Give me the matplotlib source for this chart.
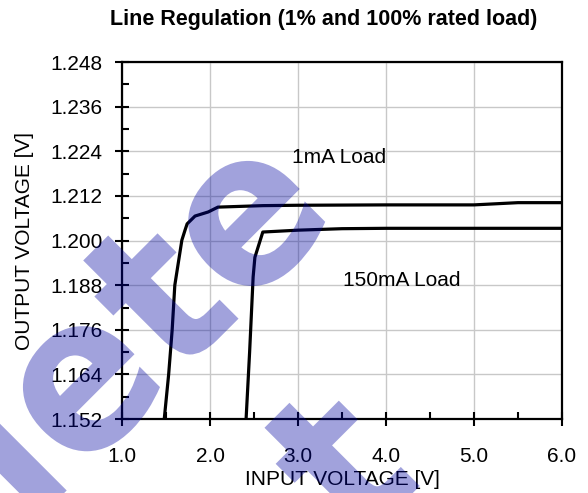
import matplotlib
matplotlib.use('Agg')
import matplotlib.pyplot as plt
from matplotlib.ticker import MultipleLocator, FormatStrFormatter
from matplotlib.textpath import TextPath
from matplotlib.patches import PathPatch
from matplotlib.font_manager import FontProperties
from matplotlib.transforms import Affine2D, IdentityTransform

plt.rcParams['font.family'] = ['Liberation Sans', 'DejaVu Sans']

# 1mA load curve
vin_1ma = [1.48, 1.53, 1.57, 1.60, 1.68, 1.716, 1.74, 1.83, 1.98, 2.09, 2.6, 3.0, 4.0, 5.0, 5.5, 6.0]
vout_1ma = [1.152, 1.164, 1.176, 1.188, 1.2001, 1.2028, 1.2045, 1.2066, 1.2077, 1.2090,
            1.2094, 1.2095, 1.2096, 1.2096, 1.2102, 1.2102]

# 150mA load curve
vin_150ma = [2.41, 2.45, 2.49, 2.51, 2.60, 3.0, 3.5, 4.0, 5.0, 6.0]
vout_150ma = [1.152, 1.170, 1.1902, 1.1955, 1.2023, 1.2028, 1.2032, 1.2033, 1.2033, 1.2033]

fig = plt.figure(figsize=(5.88, 4.93), dpi=100)
ax = fig.add_axes([0.2075, 0.150, 0.7483, 0.724])

ax.plot(vin_1ma, vout_1ma, color='black', lw=2.3, zorder=3)
ax.plot(vin_150ma, vout_150ma, color='black', lw=2.3, zorder=3)

ax.set_xlim(1.0, 6.0)
ax.set_ylim(1.152, 1.248)
ax.xaxis.set_major_locator(MultipleLocator(1.0))
ax.xaxis.set_minor_locator(MultipleLocator(0.5))
ax.yaxis.set_major_locator(MultipleLocator(0.012))
ax.yaxis.set_minor_locator(MultipleLocator(0.006))
ax.xaxis.set_major_formatter(FormatStrFormatter('%.1f'))
ax.yaxis.set_major_formatter(FormatStrFormatter('%.3f'))

ax.grid(True, which='major', color='#c8c8c8', lw=1.0)
ax.set_axisbelow(True)
for s in ax.spines.values():
    s.set_linewidth(1.6)
    s.set_color('black')

ax.tick_params(which='major', direction='inout', length=10, width=1.5, labelsize=15)
ax.tick_params(axis='x', which='major', pad=15)
ax.tick_params(axis='y', which='major', pad=9)
ax.tick_params(which='minor', direction='in', length=5, width=1.5)

ax.set_xlabel('INPUT VOLTAGE [V]', fontsize=15)
ax.set_ylabel('OUTPUT VOLTAGE [V]', fontsize=15)
ax.xaxis.set_label_coords(0.5, -0.142)
ax.yaxis.set_label_coords(-0.20, 0.5)

ax.text(2.93, 1.2208, '1mA Load', fontsize=15)
ax.text(3.51, 1.1878, '150mA Load', fontsize=15)

fig.text(0.551, 0.960, 'Line Regulation (1% and 100% rated load)', fontsize=15.5,
         fontweight='bold', ha='center', va='center')

# watermark: slightly condensed bold text, rotated 45 deg, drawn on top
fp = FontProperties(family='DejaVu Sans', weight='bold')
wm_size = 215
wm_squeeze = 0.94
wm_color = (0, 0.02, 0.63, 0.37)

# word "Obsolete": centre of the last "e" goes to pixel (247, 222) from top-left
tp = TextPath((0, 0), 'Obsolete', size=wm_size, prop=fp)
ext = tp.get_extents()
cx = (ext.x1 - 0.30 * wm_size) * wm_squeeze
cy = 0.29 * wm_size
tr = Affine2D().scale(wm_squeeze, 1).translate(-cx, -cy).rotate_deg(45).translate(247, 493 - 222)
fig.add_artist(PathPatch(tr.transform_path(tp), transform=IdentityTransform(),
                         facecolor=wm_color, edgecolor='none', zorder=10))

# fragment of a second copy at the bottom ("t")
tp2 = TextPath((0, 0), 't', size=wm_size, prop=fp)
ext2 = tp2.get_extents()
cx2 = (ext2.x0 + ext2.x1) / 2 * wm_squeeze
cy2 = (ext2.y0 + ext2.y1) / 2
tr2 = Affine2D().scale(wm_squeeze, 1).translate(-cx2, -cy2).rotate_deg(45).translate(337, 493 - 462)
fig.add_artist(PathPatch(tr2.transform_path(tp2), transform=IdentityTransform(),
                         facecolor=wm_color, edgecolor='none', zorder=10))

fig.savefig('out.png', dpi=100)
